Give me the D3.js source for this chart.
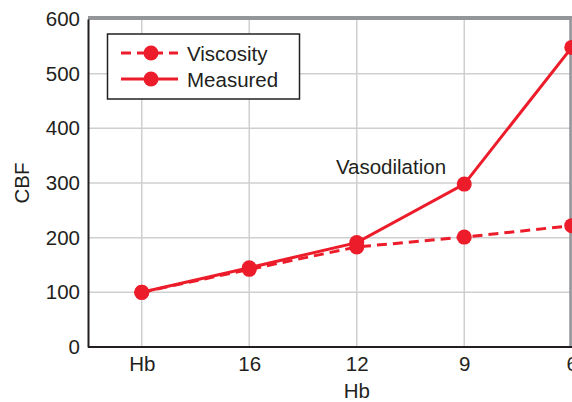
<!DOCTYPE html>
<html>
<head>
<meta charset="utf-8">
<script src="https://cdn.jsdelivr.net/npm/d3@7"></script>
<style>
  body { margin: 0; background: #fff; }
  text { font-family: "Liberation Sans", Arial, sans-serif; fill: #231f20; }
</style>
</head>
<body>
<script>
const categories = ["Hb", "16", "12", "9", "6"];
const viscosity = [100, 142, 183, 201, 222];
const measured = [100, 145, 191, 298, 548];
const yTicks = [0, 100, 200, 300, 400, 500, 600];

const width = 572, height = 402;
const plotLeft = 88, plotTop = 19, plotBottom = 347, step = 107.5;
const red = "#ec1c2a";
const fontSize = 20.5;

const svg = d3.select("body").append("svg")
    .attr("width", width)
    .attr("height", height);

const x = d3.scalePoint()
    .domain(categories)
    .range([plotLeft, plotLeft + step * categories.length])
    .padding(0.5);

const y = d3.scaleLinear()
    .domain([0, 600])
    .range([plotBottom, plotTop]);

// grid
svg.append("g").selectAll("line")
    .data(yTicks.slice(1, -1))
    .join("line")
    .attr("x1", plotLeft).attr("x2", width)
    .attr("y1", d => y(d)).attr("y2", d => y(d))
    .attr("stroke", "#cfcfcf").attr("stroke-width", 1.5);

svg.append("g").selectAll("line")
    .data(categories)
    .join("line")
    .attr("x1", d => x(d)).attr("x2", d => x(d))
    .attr("y1", plotTop).attr("y2", plotBottom)
    .attr("stroke", "#cfcfcf").attr("stroke-width", 1.5);

// grey frame top and right
svg.append("line")
    .attr("x1", plotLeft).attr("x2", width)
    .attr("y1", plotTop - 1).attr("y2", plotTop - 1)
    .attr("stroke", "#939598").attr("stroke-width", 4);
svg.append("line")
    .attr("x1", 570.5).attr("x2", 570.5)
    .attr("y1", plotTop).attr("y2", plotBottom)
    .attr("stroke", "#939598").attr("stroke-width", 2.5);

// axes
const yAxis = d3.axisLeft(y).tickValues(yTicks).tickSize(0).tickPadding(8);
svg.append("g")
    .attr("transform", "translate(" + plotLeft + ",0)")
    .call(yAxis)
    .call(g => g.select(".domain").attr("stroke", "#231f20").attr("stroke-width", 2))
    .call(g => g.selectAll("text").attr("font-size", fontSize).style("fill", "#231f20"));

const xAxis = d3.axisBottom(x).tickSize(0).tickPadding(9);
svg.append("g")
    .attr("transform", "translate(0," + plotBottom + ")")
    .call(xAxis)
    .call(g => g.select(".domain").attr("d", "M" + plotLeft + ",0H" + width)
        .attr("stroke", "#231f20").attr("stroke-width", 2))
    .call(g => g.selectAll("text").attr("font-size", fontSize).style("fill", "#231f20"));

// axis titles
svg.append("text")
    .attr("transform", "translate(29," + y(300) + ") rotate(-90)")
    .attr("text-anchor", "middle")
    .attr("font-size", fontSize)
    .text("CBF");

svg.append("text")
    .attr("x", x("12")).attr("y", 398)
    .attr("text-anchor", "middle")
    .attr("font-size", fontSize)
    .text("Hb");

// lines
const lineFunction = d3.line()
    .x((d, i) => x(categories[i]))
    .y(d => y(d));

svg.append("path")
    .attr("d", lineFunction(viscosity))
    .attr("fill", "none")
    .attr("stroke", red)
    .attr("stroke-width", 3)
    .attr("stroke-dasharray", "10,6");

svg.append("path")
    .attr("d", lineFunction(measured))
    .attr("fill", "none")
    .attr("stroke", red)
    .attr("stroke-width", 3);

[viscosity, measured].forEach(series => {
    svg.append("g").selectAll("circle")
        .data(series)
        .join("circle")
        .attr("cx", (d, i) => x(categories[i]))
        .attr("cy", d => y(d))
        .attr("r", 7.5)
        .attr("fill", red);
});

svg.append("text")
    .attr("x", 391).attr("y", 174)
    .attr("text-anchor", "middle")
    .attr("font-size", fontSize)
    .text("Vasodilation");

// legend
const legend = svg.append("g");
legend.append("rect")
    .attr("x", 107.5).attr("y", 34).attr("width", 192).attr("height", 65)
    .attr("fill", "#fff").attr("stroke", "#231f20").attr("stroke-width", 1.5);

const legendItems = [
    {name: "Viscosity", dash: "10,6", y: 53},
    {name: "Measured", dash: null, y: 79}
];
legendItems.forEach(item => {
    legend.append("line")
        .attr("x1", 121).attr("x2", 178)
        .attr("y1", item.y).attr("y2", item.y)
        .attr("stroke", red).attr("stroke-width", 3)
        .attr("stroke-dasharray", item.dash);
    legend.append("circle")
        .attr("cx", 151).attr("cy", item.y).attr("r", 7.5).attr("fill", red);
    legend.append("text")
        .attr("x", 187).attr("y", item.y + 7.5)
        .attr("font-size", fontSize)
        .text(item.name);
});
</script>
</body>
</html>
